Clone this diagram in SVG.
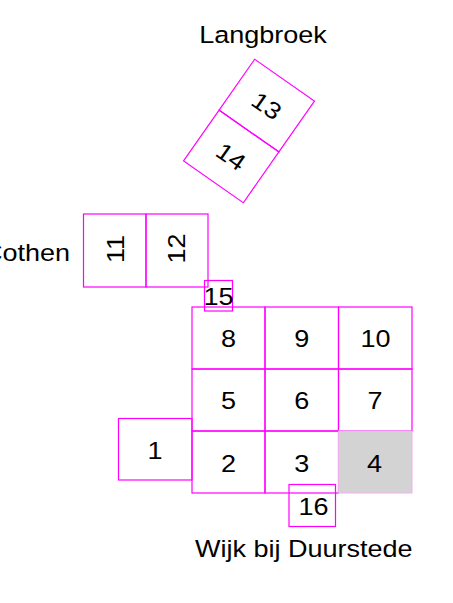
<svg xmlns="http://www.w3.org/2000/svg" width="453" height="603" viewBox="0 0 453 603">
<style>
rect.c{fill:none;stroke:#ff00ff;stroke-width:1.2}
text{font-family:"Liberation Sans",Arial,sans-serif;font-size:23.5px;fill:#000;text-anchor:middle}
</style>
<rect width="453" height="603" fill="#ffffff"/>
<text transform="translate(263,42.7) scale(1.15,1)">Langbroek</text>
<text transform="translate(70,261) scale(1.15,1)" style="text-anchor:end">Cothen</text>
<text transform="translate(303.8,556.7) scale(1.15,1)">Wijk bij Duurstede</text>
<g id="n13" transform="translate(249,131) rotate(35)">
<rect class="c" x="-36.5" y="-62" width="73" height="62"/>
<text transform="translate(0,-22.5) scale(1.15,1)">13</text>
</g>
<g id="n14" transform="translate(249,131) rotate(35)">
<rect class="c" x="-36.5" y="0" width="73" height="62"/>
<text transform="translate(0,39.5) scale(1.15,1)">14</text>
</g>
<g id="n11">
<rect class="c" x="83.5" y="214" width="62.5" height="73"/>
<text transform="translate(115.5,249) rotate(-90) translate(0,8.5) scale(1.15,1)">11</text>
</g>
<g id="n12">
<rect class="c" x="146" y="214" width="62" height="73"/>
<text transform="translate(176.5,248.5) rotate(-90) translate(0,8.5) scale(1.15,1)">12</text>
</g>
<g id="n1">
<rect class="c" x="118.5" y="418.5" width="73.5" height="61.5"/>
<text transform="translate(155,459.3) scale(1.15,1)">1</text>
</g>
<g id="n8">
<rect class="c" x="192" y="307" width="73" height="62"/>
<text transform="translate(228.5,346.7) scale(1.15,1)">8</text>
</g>
<g id="n9">
<rect class="c" x="265" y="307" width="73.5" height="62"/>
<text transform="translate(301.7,346.7) scale(1.15,1)">9</text>
</g>
<g id="n10">
<rect class="c" x="338.5" y="307" width="73.5" height="62"/>
<text transform="translate(375.5,346.7) scale(1.15,1)">10</text>
</g>
<g id="n5">
<rect class="c" x="192" y="369" width="73" height="62"/>
<text transform="translate(228.5,409) scale(1.15,1)">5</text>
</g>
<g id="n6">
<rect class="c" x="265" y="369" width="73.5" height="62"/>
<text transform="translate(301.7,409) scale(1.15,1)">6</text>
</g>
<g id="n7">
<rect class="c" x="338.5" y="369" width="73.5" height="62"/>
<text transform="translate(375,409) scale(1.15,1)">7</text>
</g>
<g id="n2">
<rect class="c" x="192" y="431" width="73" height="62"/>
<text transform="translate(228.5,471.7) scale(1.15,1)">2</text>
</g>
<g id="n3">
<rect class="c" x="265" y="431" width="73.5" height="62"/>
<text transform="translate(301.7,471.7) scale(1.15,1)">3</text>
</g>
<g id="n4">
<rect x="338.5" y="431" width="73.5" height="62" fill="#d3d3d3" stroke="#f0b0f0" stroke-width="1"/>
<text transform="translate(374.5,471.7) scale(1.15,1)">4</text>
</g>
<g id="n15">
<rect class="c" x="204.5" y="280.5" width="28" height="30.5"/>
<text transform="translate(218.5,305) scale(1.15,1)">15</text>
</g>
<g id="n16">
<rect class="c" x="289" y="484.5" width="46.5" height="42"/>
<text transform="translate(313.5,515) scale(1.15,1)">16</text>
</g>
<g id="connectors"/>
</svg>
